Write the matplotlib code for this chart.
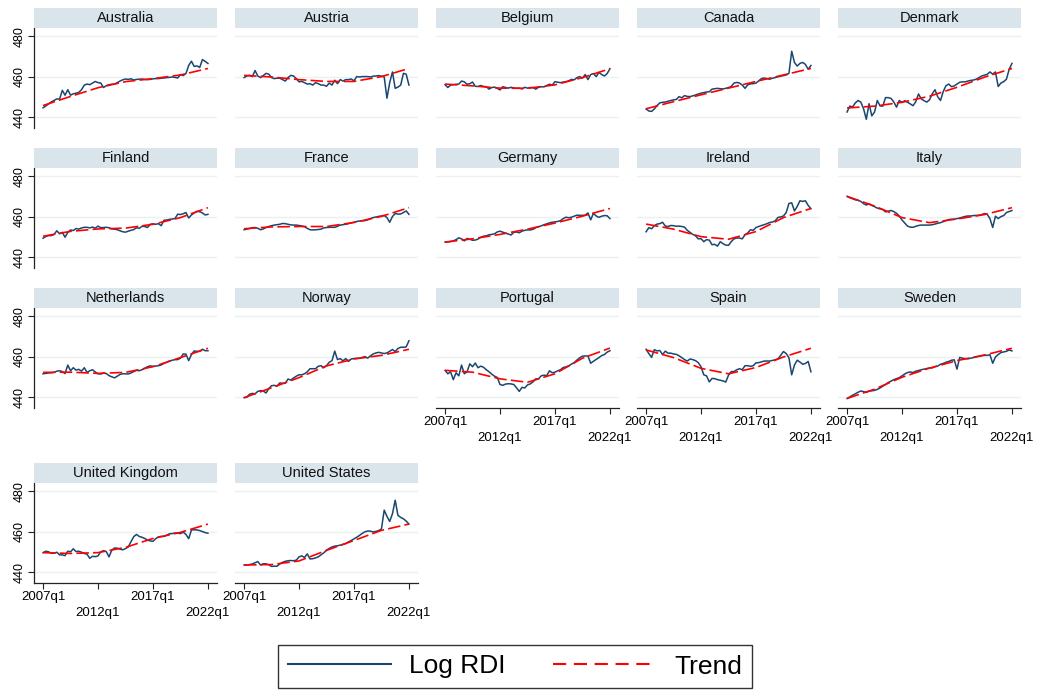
import numpy as np
import matplotlib
matplotlib.use("Agg")
import matplotlib.pyplot as plt
from matplotlib.lines import Line2D

plt.rcParams['font.family'] = ['Liberation Sans', 'DejaVu Sans']
plt.rcParams['lines.scale_dashes'] = False

countries = ["Australia", "Austria", "Belgium", "Canada", "Denmark",
             "Finland", "France", "Germany", "Ireland", "Italy",
             "Netherlands", "Norway", "Portugal", "Spain", "Sweden",
             "United Kingdom", "United States"]

tick_pos = [0, 20, 40, 60]
tick_labels = ["2007q1", "2012q1", "2017q1", "2022q1"]
y_ticks = [440, 460, 480]

# trend every 10 quarters (2007q1, 2009q3, ..., 2022q1)
trend_q = [0, 10, 20, 30, 40, 50, 60]
trend_australia = [445.7, 450.2, 454.5, 457.5, 459.0, 460.8, 464.0]
trend_austria = [460.6, 459.8, 458.5, 457.6, 457.6, 460.0, 464.0]
trend_belgium = [456.3, 455.4, 454.3, 454.2, 455.9, 459.5, 463.9]
trend_canada = [444.1, 447.6, 451.0, 454.3, 457.6, 460.8, 464.0]
trend_denmark = [444.5, 445.4, 447.3, 450.3, 454.7, 459.7, 464.0]
trend_finland = [450.3, 452.7, 453.9, 454.3, 456.2, 459.5, 464.4]
trend_france = [454.0, 454.9, 455.1, 455.1, 457.1, 460.1, 464.4]
trend_germany = [447.4, 449.0, 451.2, 453.8, 456.8, 460.2, 464.0]
trend_ireland = [456.3, 453.8, 450.1, 448.8, 452.6, 459.5, 464.0]
trend_italy = [470.0, 465.2, 459.5, 457.0, 458.8, 461.0, 464.4]
trend_netherlands = [452.2, 452.3, 451.7, 452.2, 455.0, 459.5, 464.1]
trend_norway = [439.7, 444.6, 449.6, 455.4, 458.8, 460.6, 463.6]
trend_portugal = [453.2, 452.3, 449.0, 447.3, 451.5, 459.2, 464.2]
trend_spain = [463.3, 459.5, 454.2, 451.5, 454.6, 459.8, 464.1]
trend_sweden = [439.3, 443.9, 449.8, 454.3, 458.0, 460.8, 464.1]
trend_united_kingdom = [449.6, 449.2, 449.6, 452.2, 456.6, 459.6, 463.7]
trend_united_states = [443.5, 443.7, 445.5, 450.7, 455.6, 460.6, 463.7]

australia = [444.6, 445.5, 446.5, 447.5, 448.2, 449.0, 448.8, 453.2, 450.8, 453.5,
             450.8, 451.5, 451.8, 452.2, 453.5, 455.8, 456.3, 456.0, 456.8, 457.6,
             457.0, 456.8, 454.6, 455.5, 456.0, 456.2, 456.3, 457.0, 457.8, 458.4,
             458.8, 458.6, 458.9, 458.3, 458.6, 458.7, 458.8, 458.6, 458.5, 458.6,
             458.9, 459.0, 459.0, 459.2, 459.3, 459.5, 459.6, 459.8, 459.6, 459.3,
             461.0, 460.5, 461.5, 465.5, 467.6, 465.0, 465.3, 464.5, 468.4, 467.5,
             466.5]
austria = [459.5, 460.3, 460.6, 460.0, 463.0, 460.3, 459.5, 460.5, 461.6, 461.2,
           459.5, 459.0, 459.2, 459.2, 458.5, 457.8, 459.5, 460.6, 460.3, 459.0,
           457.4, 457.6, 457.0, 456.3, 456.5, 455.8, 457.0, 456.5, 455.8, 455.8,
           455.2, 456.8, 455.8, 458.2, 456.5, 458.5, 457.8, 458.5, 458.5, 458.8,
           457.9, 460.0, 459.8, 460.0, 460.0, 460.0, 459.8, 460.2, 460.3, 460.5,
           460.2, 459.8, 449.3, 457.0, 462.3, 454.2, 454.8, 455.8, 461.6, 461.2,
           455.8]
belgium = [456.0, 454.6, 455.8, 456.0, 456.2, 456.3, 457.8, 457.4, 456.2, 456.5,
           457.3, 455.2, 455.1, 455.6, 455.1, 455.0, 453.8, 454.6, 454.8, 454.2,
           453.4, 455.0, 454.6, 454.3, 454.7, 454.4, 454.2, 454.3, 453.9, 454.7,
           454.3, 454.6, 454.6, 453.8, 454.7, 455.0, 454.9, 455.6, 456.2, 455.8,
           457.5, 457.2, 457.0, 457.3, 457.5, 457.9, 458.6, 458.4, 459.5, 460.0,
           459.2, 461.0, 458.5, 461.0, 461.5, 460.0, 462.0, 461.0, 460.3, 461.5,
           463.9]
canada = [444.0, 443.0, 442.8, 444.0, 445.7, 447.0, 447.3, 447.4, 447.8, 448.2,
          448.5, 448.7, 450.1, 449.5, 450.6, 450.2, 450.1, 450.5, 450.9, 451.4,
          451.8, 452.1, 452.4, 452.5, 453.8, 454.0, 454.2, 454.0, 453.9, 454.2,
          454.6, 455.1, 456.8, 457.1, 456.8, 455.8, 454.2, 455.9, 456.4, 456.5,
          456.8, 457.9, 459.0, 459.3, 459.0, 458.7, 459.2, 459.5, 459.9, 460.2,
          460.5, 460.8, 461.6, 472.5, 467.0, 465.2, 466.5, 467.0, 466.0, 463.6,
          465.5]
denmark = [442.5, 445.4, 445.0, 447.0, 448.2, 447.4, 444.1, 438.9, 446.6, 440.6,
           442.5, 448.2, 445.5, 445.4, 449.6, 449.6, 449.2, 447.5, 444.9, 448.2,
           447.2, 448.1, 447.3, 446.5, 445.6, 447.6, 451.4, 449.0, 448.1, 447.4,
           448.5, 451.5, 453.5, 450.0, 448.2, 452.6, 455.5, 456.3, 455.0, 455.4,
           456.3, 457.2, 457.4, 457.4, 457.8, 458.1, 458.3, 458.7, 459.5, 460.3,
           460.7, 461.1, 462.3, 461.2, 462.3, 455.1, 456.8, 457.5, 458.7, 463.6,
           466.5]
finland = [449.3, 450.2, 450.6, 450.6, 451.2, 453.0, 451.5, 452.2, 449.8, 452.2,
           453.4, 453.1, 454.1, 453.8, 454.4, 454.7, 454.7, 454.4, 454.8, 454.3,
           455.3, 454.5, 454.6, 454.7, 454.5, 453.9, 453.8, 453.5, 453.0, 452.5,
           452.3, 452.8, 453.2, 453.6, 454.5, 454.2, 455.2, 455.1, 454.6, 456.2,
           456.4, 456.2, 456.5, 455.5, 458.2, 458.3, 458.6, 458.8, 459.0, 461.2,
           461.0, 461.4, 462.0, 459.3, 460.8, 461.8, 462.6, 462.4, 461.8, 460.8,
           461.1]
france = [453.5, 453.8, 454.1, 454.5, 454.6, 454.2, 453.5, 453.9, 454.6, 455.1,
          455.5, 455.8, 456.0, 456.2, 456.6, 456.5, 456.2, 455.9, 455.8, 455.8,
          455.6, 455.4, 455.0, 454.2, 453.5, 453.4, 453.5, 453.6, 453.8, 454.4,
          454.6, 454.7, 454.7, 454.7, 455.2, 455.8, 456.0, 456.2, 456.5, 456.9,
          457.2, 457.6, 457.8, 457.9, 458.0, 458.4, 459.0, 459.5, 459.8, 460.1,
          460.3, 460.6, 459.5, 457.2, 460.0, 461.5, 461.2, 461.3, 462.0, 462.8,
          461.1]
germany = [447.4, 447.5, 447.7, 448.0, 448.6, 449.5, 449.0, 448.0, 449.2, 448.8,
           448.3, 448.4, 448.9, 449.8, 450.3, 450.5, 451.0, 451.2, 451.5, 452.4,
           452.8, 452.3, 451.8, 451.4, 450.9, 452.2, 452.4, 452.0, 452.8, 453.2,
           453.4, 453.4, 453.7, 454.5, 455.0, 455.4, 456.0, 456.4, 456.9, 457.2,
           457.4, 457.6, 458.0, 459.0, 459.7, 459.4, 459.7, 460.2, 460.7, 460.6,
           460.6, 460.7, 461.8, 458.4, 461.6, 460.3, 459.6, 460.2, 460.5, 460.4,
           459.0]
ireland = [452.5, 454.5, 454.0, 455.5, 456.3, 456.5, 457.2, 455.3, 455.1, 455.6,
           455.5, 455.2, 455.3, 455.1, 454.8, 453.2, 452.2, 451.2, 450.5, 449.0,
           449.1, 447.6, 448.6, 448.4, 446.1, 446.3, 445.4, 447.6, 446.6, 445.9,
           445.8, 447.6, 449.0, 449.4, 449.4, 449.0, 451.0, 451.9, 453.5, 453.2,
           454.6, 455.1, 455.6, 456.0, 456.5, 457.1, 457.3, 457.9, 459.6, 459.8,
           460.3, 462.0, 466.5, 466.8, 462.8, 465.0, 467.8, 467.5, 467.8, 465.5,
           463.9]
italy = [470.0, 469.3, 468.8, 468.3, 468.0, 467.5, 466.4, 465.7, 466.3, 465.5,
         464.9, 464.2, 463.8, 463.5, 462.3, 462.7, 463.0, 462.5, 461.6, 460.3,
         458.3, 456.8, 455.3, 454.8, 454.7, 455.2, 455.6, 455.8, 455.8, 455.8,
         455.8, 456.0, 456.3, 456.7, 457.0, 457.5, 458.0, 458.5, 458.7, 458.7,
         459.0, 459.3, 459.7, 460.1, 460.3, 460.3, 460.5, 460.6, 460.6, 461.0,
         461.5, 461.1, 459.0, 454.6, 460.2, 459.0, 460.0, 460.5, 462.0, 462.5,
         463.0]
netherlands = [451.5, 451.7, 451.9, 452.0, 452.2, 452.8, 453.0, 452.6, 451.6, 455.8,
               453.0, 454.5, 453.3, 453.7, 452.8, 454.5, 452.2, 453.0, 453.5, 452.4,
               451.5, 451.4, 451.9, 451.6, 450.6, 450.0, 449.5, 450.3, 451.2, 451.5,
               451.5, 451.4, 451.9, 452.6, 453.2, 453.0, 453.5, 454.2, 455.0, 455.4,
               455.2, 455.3, 455.5, 455.9, 456.6, 457.2, 457.8, 458.2, 458.5, 458.5,
               459.2, 461.3, 461.2, 458.0, 461.0, 462.8, 462.6, 462.6, 463.6, 462.9,
               462.9]
norway = [439.7, 439.9, 441.4, 441.8, 441.6, 442.8, 443.2, 443.0, 442.0, 444.2,
          445.6, 445.8, 445.4, 447.0, 446.8, 446.8, 448.9, 448.4, 449.4, 450.3,
          451.0, 451.0, 451.5, 452.5, 454.0, 454.0, 454.0, 455.2, 455.5, 454.5,
          455.5, 457.2, 458.0, 462.7, 458.5, 459.0, 457.9, 459.0, 457.6, 458.8,
          459.0, 459.2, 459.2, 459.6, 460.0, 459.2, 460.4, 461.3, 461.8, 462.1,
          461.8, 461.5, 461.8, 462.6, 463.5, 462.5, 464.0, 464.6, 464.6, 464.8,
          467.8]
portugal = [453.2, 451.5, 452.5, 448.6, 452.0, 450.5, 455.8, 451.5, 452.5, 456.4,
            455.0, 456.8, 454.5, 455.3, 454.7, 453.5, 452.5, 451.3, 450.3, 449.7,
            446.2, 445.8, 446.4, 446.6, 446.5, 446.2, 444.6, 442.8, 444.8, 444.5,
            446.0, 446.5, 447.5, 449.0, 449.0, 450.5, 450.8, 450.6, 453.0, 452.0,
            452.3, 453.0, 453.5, 454.6, 454.9, 455.4, 456.3, 457.0, 458.3, 459.4,
            460.2, 460.3, 460.3, 456.7, 457.7, 458.6, 459.5, 460.5, 461.0, 462.2,
            462.9]
spain = [463.6, 461.5, 459.6, 463.4, 462.8, 463.0, 461.0, 462.7, 461.7, 461.7,
         461.3, 461.1, 460.4, 459.5, 458.5, 457.8, 458.8, 458.5, 458.0, 457.0,
         455.0, 451.0, 450.5, 447.5, 449.2, 449.1, 448.6, 448.3, 448.0, 447.4,
         450.8, 452.6, 452.6, 453.5, 454.0, 453.5, 455.5, 455.5, 455.2, 455.5,
         456.9, 457.0, 457.4, 457.8, 457.8, 457.8, 458.1, 458.4, 458.9, 460.6,
         462.5, 461.5, 459.4, 451.0, 455.8, 458.2, 457.3, 456.2, 456.6, 457.6,
         452.5]
sweden = [439.3, 440.1, 440.9, 441.6, 442.4, 443.0, 442.7, 442.3, 442.9, 443.1,
          443.3, 443.8, 444.5, 445.4, 446.2, 447.2, 447.9, 448.6, 449.1, 449.6,
          450.5, 451.4, 452.1, 452.4, 452.1, 452.8, 453.1, 453.5, 453.8, 454.1,
          454.4, 454.4, 455.0, 455.3, 456.2, 456.6, 457.2, 457.6, 458.2, 458.4,
          453.8, 459.6, 459.2, 459.0, 458.9, 459.2, 459.5, 459.8, 460.1, 460.4,
          460.6, 460.6, 460.9, 456.7, 459.8, 461.0, 462.0, 462.3, 462.6, 463.3,
          462.8]
united_kingdom = [449.6, 450.3, 450.0, 449.3, 449.3, 449.8, 448.5, 448.5, 448.1, 450.3,
                  450.0, 451.5, 450.1, 450.3, 449.8, 449.2, 448.8, 446.8, 447.8, 447.6,
                  448.0, 450.0, 450.6, 450.1, 447.5, 450.8, 451.9, 451.8, 451.3, 451.0,
                  451.6, 452.4, 455.0, 457.5, 458.6, 457.6, 457.2, 456.6, 455.8, 455.4,
                  455.2, 456.5, 457.4, 457.6, 457.6, 458.2, 458.9, 459.0, 459.3, 459.3,
                  459.0, 459.7, 458.6, 456.5, 460.8, 460.9, 460.8, 460.5, 460.0, 459.5,
                  459.2]
united_states = [443.5, 443.5, 443.7, 444.0, 444.6, 445.2, 443.5, 444.1, 444.1, 443.6,
                 442.8, 442.9, 442.9, 444.0, 444.8, 445.3, 445.6, 445.7, 445.6, 445.9,
                 447.5, 448.0, 447.2, 449.0, 446.5, 446.6, 447.0, 447.5, 448.5, 449.5,
                 450.8, 451.7, 452.4, 452.8, 453.0, 453.3, 453.7, 454.1, 454.9, 455.6,
                 456.4, 457.2, 458.1, 459.1, 459.9, 460.3, 460.2, 459.8, 460.1, 460.5,
                 461.3, 470.6, 467.5, 465.0, 468.8, 475.5, 468.0, 467.0, 466.3, 465.2,
                 463.7]

series = [australia, austria, belgium, canada, denmark, finland, france, germany,
          ireland, italy, netherlands, norway, portugal, spain, sweden,
          united_kingdom, united_states]
trends = [trend_australia, trend_austria, trend_belgium, trend_canada, trend_denmark,
          trend_finland, trend_france, trend_germany, trend_ireland, trend_italy,
          trend_netherlands, trend_norway, trend_portugal, trend_spain, trend_sweden,
          trend_united_kingdom, trend_united_states]

NAVY = '#1a476f'
RED = '#ff0000'
STRIP = '#d9e5eb'
GRID = '#e9f1f3'

W, H = 1037, 692
fig = plt.figure(figsize=(W / 100, H / 100), dpi=100)
fig.patch.set_facecolor('white')

col_left = [34, 235, 436, 637, 838]
panel_w = 183
row_plot_top = [28, 168, 308, 483]
plot_h = 100
strip_h = 20


def px_axes(x, y, w, h):
    return fig.add_axes([x / W, 1 - (y + h) / H, w / W, h / H])


bottom_axis = {"Portugal", "Spain", "Sweden", "United Kingdom", "United States"}

for i, (name, vals, tr) in enumerate(zip(countries, series, trends)):
    r, c = divmod(i, 5)
    x0 = col_left[c]
    y0 = row_plot_top[r]
    ax = px_axes(x0, y0, panel_w, plot_h)
    t = np.arange(len(vals))
    for yt in y_ticks:
        ax.axhline(yt, color=GRID, lw=1.0, zorder=0)
    ax.plot(t, vals, color=NAVY, lw=1.1, zorder=3)
    ax.plot(trend_q, tr, color=RED, lw=1.2, dashes=(9, 3), zorder=4)
    ax.set_xlim(-3.3, 63.3)
    ax.set_ylim(434.6, 484)
    for s in ['top', 'right']:
        ax.spines[s].set_visible(False)
    ax.spines['left'].set_visible(c == 0)
    ax.spines['bottom'].set_visible(name in bottom_axis)
    for s in ['left', 'bottom']:
        ax.spines[s].set_color('#222222')
        ax.spines[s].set_linewidth(0.9)
    ax.set_yticks(y_ticks)
    if c == 0:
        ax.set_yticklabels([str(y) for y in y_ticks], rotation=90, va='center',
                           fontsize=9)
        ax.tick_params(axis='y', length=4, width=0.8, pad=2, color='#222222')
    else:
        ax.tick_params(axis='y', length=0, labelleft=False)
    if name in bottom_axis:
        ax.set_xticks(tick_pos[0::2])
        ax.set_xticklabels(tick_labels[0::2], fontsize=9.5)
        ax.set_xticks(tick_pos[1::2], minor=True)
        ax.set_xticklabels(tick_labels[1::2], minor=True, fontsize=9.5)
        ax.tick_params(axis='x', which='major', length=4, width=0.8, pad=2,
                       color='#222222')
        ax.tick_params(axis='x', which='minor', length=4, width=0.8, pad=13,
                       color='#222222')
    else:
        ax.set_xticks([])
    ax.set_facecolor('white')

    sax = px_axes(x0, y0 - strip_h, panel_w, strip_h)
    sax.set_facecolor(STRIP)
    sax.set_xticks([])
    sax.set_yticks([])
    for s in sax.spines.values():
        s.set_visible(False)
    sax.text(0.5, 0.5, name, ha='center', va='center', fontsize=10.5,
             transform=sax.transAxes, color='#111111')

handles = [Line2D([], [], color=NAVY, lw=1.5),
           Line2D([], [], color=RED, lw=1.5, dashes=(9.5, 5.5))]
leg = fig.legend(handles, ["Log RDI", "Trend"], loc='center',
                 bbox_to_anchor=(515 / W, 1 - 666.5 / H), ncol=2,
                 fontsize=19, frameon=True, fancybox=False,
                 handlelength=3.9, handletextpad=0.7, columnspacing=1.8,
                 borderpad=0.35, borderaxespad=0)
leg.get_frame().set_edgecolor('black')
leg.get_frame().set_linewidth(1.0)

fig.savefig("out.png", dpi=100, facecolor='white')
